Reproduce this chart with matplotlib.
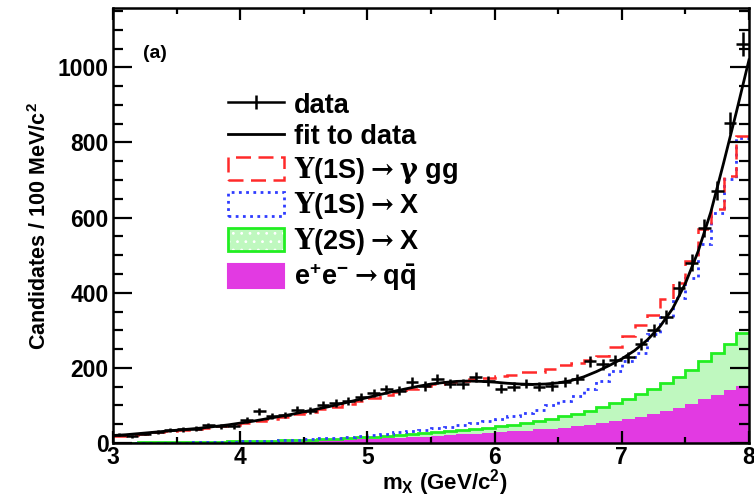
import numpy as np
import matplotlib
matplotlib.use("Agg")
import matplotlib.pyplot as plt
from matplotlib.lines import Line2D
from matplotlib.patches import Patch
from matplotlib.ticker import MultipleLocator

plt.rcParams['font.family'] = ['Liberation Sans', 'DejaVu Sans']
plt.rcParams['font.weight'] = 'bold'
plt.rcParams['mathtext.fontset'] = 'custom'
plt.rcParams['mathtext.rm'] = 'DejaVu Serif'
plt.rcParams['mathtext.it'] = 'DejaVu Serif:italic'
plt.rcParams['mathtext.bf'] = 'Liberation Sans:bold'
plt.rcParams['mathtext.sf'] = 'Liberation Sans:bold'
plt.rcParams['hatch.color'] = 'white'
plt.rcParams['hatch.linewidth'] = 0.8

# 100 MeV bins between 3 and 8 GeV
edges = np.round(np.arange(3.0, 8.01, 0.1), 2)
centers = edges[:-1] + 0.05

data = [22, 18, 25, 30, 35, 36, 38, 47, 44, 44,
        62, 85, 72, 74, 88, 86, 102, 106, 112, 122,
        133, 143, 139, 163, 152, 170, 158, 157, 176, 165,
        145, 150, 158, 150, 152, 163, 170, 218, 210, 220,
        228, 263, 300, 335, 412, 480, 572, 672, 852, 1062]

# fit curve sampled at the bin edges
fit_x = edges
fit_y = [20, 22, 25, 28, 31, 34, 37, 40, 44, 48,
         53, 58, 64, 70, 76, 83, 90, 97, 105, 113,
         121, 129, 137, 144, 151, 157, 161, 164, 165, 164,
         162, 159, 157, 156, 157, 160, 166, 176, 190, 206,
         224, 246, 274, 310, 358, 425, 510, 615, 745, 880, 1020]

ups1s_ggg = [18, 20, 24, 28, 31, 34, 37, 41, 44, 48,
             53, 58, 64, 70, 76, 83, 90, 97, 105, 113,
             121, 129, 137, 144, 151, 157, 162, 166, 170, 174,
             178, 180, 188, 190, 198, 208, 212, 222, 232, 255,
             285, 315, 340, 384, 427, 485, 571, 624, 712, 818]

ups1s_x = [0, 0, 0, 1, 1, 1, 2, 2, 3, 3,
           4, 5, 6, 7, 8, 10, 12, 14, 16, 19,
           22, 25, 28, 31, 35, 39, 43, 48, 53, 58,
           64, 72, 80, 89, 100, 112, 126, 143, 165, 192,
           218, 240, 290, 335, 385, 440, 530, 611, 704, 811]

# Y(2S) -> X stacked on top of continuum
ups2s_top = [1, 1, 1.5, 2, 2, 2.5, 3, 3, 3.5, 4,
             5, 5.5, 6, 7, 8, 9, 10, 11.5, 13, 15,
             17, 19, 21, 23, 26, 29, 32, 35, 38, 41,
             45, 49, 54, 59, 65, 71, 78, 86, 95, 106,
             117, 130, 144, 160, 176, 194, 219, 240, 264, 293]

qqbar = [0.5, 0.6, 0.8, 1, 1.2, 1.4, 1.7, 2, 2.3, 2.7,
         3, 3.5, 4, 4.6, 5.2, 6, 6.8, 7.7, 8.7, 9.8,
         11, 12.5, 14, 15.5, 17, 19, 21, 23, 25, 27,
         29, 31, 33, 36, 38, 41, 45, 49, 53, 58,
         64, 70, 77, 85, 94, 104, 116, 128, 140, 153]

RED = '#ff2a2a'
BLUE = '#2f3cff'
GREEN = '#22ee22'
GREEN_FILL = '#bff8bf'
MAGENTA = '#e23ae2'

fig = plt.figure(figsize=(7.54, 4.99), dpi=100)
ax = fig.add_axes([113 / 754, 1 - 443 / 499, 636 / 754, 435 / 499])

ax.stairs(qqbar, edges, baseline=0, fill=True, facecolor=MAGENTA, edgecolor='none')
ax.stairs(ups2s_top, edges, baseline=qqbar, fill=True, facecolor=GREEN_FILL,
          edgecolor='none', hatch='..')
ax.stairs(ups2s_top, edges, baseline=None, color=GREEN, lw=2)
ax.stairs(ups1s_x, edges, baseline=None, color=BLUE, lw=2, linestyle=(0, (1, 1.6)))
ax.stairs(ups1s_ggg, edges, baseline=None, color=RED, lw=1.8, linestyle=(0, (6, 3)))

ax.plot(fit_x, fit_y, color='black', lw=2)
ax.errorbar(centers, data, xerr=0.05, yerr=np.sqrt(data), fmt='none',
            ecolor='black', elinewidth=1.8, capsize=0)

ax.set_xlim(3, 8)
ax.set_ylim(0, 1158)
ax.xaxis.set_major_locator(MultipleLocator(1))
ax.xaxis.set_minor_locator(MultipleLocator(0.5))
ax.yaxis.set_major_locator(MultipleLocator(200))
ax.yaxis.set_minor_locator(MultipleLocator(50))
ax.tick_params(which='both', direction='in', top=True, right=True, width=1.6,
               labelsize=16.5)
ax.xaxis.set_tick_params(which='major', length=8.5, pad=2)
ax.xaxis.set_tick_params(which='minor', length=4.5)
ax.yaxis.set_tick_params(which='major', length=13.5, pad=3)
ax.yaxis.set_tick_params(which='minor', length=7)
for lab in ax.get_xticklabels() + ax.get_yticklabels():
    lab.set_fontweight('bold')
for sp in ax.spines.values():
    sp.set_linewidth(1.8)

fig.text(445 / 754, 1 - 483 / 499, r'm$_{\mathbf{X}}$ (GeV/c$^{\mathbf{2}}$)',
         ha='center', va='center', fontsize=16, fontweight='bold')
fig.text(40 / 754, 1 - 226 / 499, r'Candidates / 100 MeV/c$^{\mathbf{2}}$',
         ha='center', va='center', rotation=90, fontsize=15.5, fontweight='bold')
ax.text(0.047, 0.895, '(a)', transform=ax.transAxes, fontsize=14,
        fontweight='bold', ha='left', va='center')

handles = [
    Line2D([], [], color='black', lw=1.8, marker='|', markersize=10, markeredgewidth=1.8),
    Line2D([], [], color='black', lw=2),
    Patch(facecolor='none', edgecolor=RED, lw=1.8, linestyle=(0, (6, 3))),
    Patch(facecolor='none', edgecolor=BLUE, lw=2, linestyle=(0, (1, 1.6))),
    (Patch(facecolor=GREEN_FILL, edgecolor='white', lw=0, hatch='..'),
     Patch(facecolor='none', edgecolor=GREEN, lw=2)),
    Patch(facecolor=MAGENTA, edgecolor=MAGENTA, lw=1.5),
]
labels = [
    'data',
    'fit to data',
    r'$\Upsilon$(1S)$\rightarrow$$\mathrm{\gamma}$ gg',
    r'$\Upsilon$(1S)$\rightarrow$X',
    r'$\Upsilon$(2S)$\rightarrow$X',
    r'e$^{\mathbf{+}}$e$^{\mathbf{-}}$$\rightarrow$$\mathbf{q\bar{q}}$',
]
leg = ax.legend(handles, labels, loc='upper left', bbox_to_anchor=(0.181, 0.808),
                frameon=False, fontsize=19.5, handlelength=2.05, handleheight=0.95,
                handletextpad=0.37, labelspacing=0.17, borderpad=0, borderaxespad=0)
for t in leg.get_texts():
    t.set_fontweight('bold')

fig.savefig('out.png', dpi=100)
